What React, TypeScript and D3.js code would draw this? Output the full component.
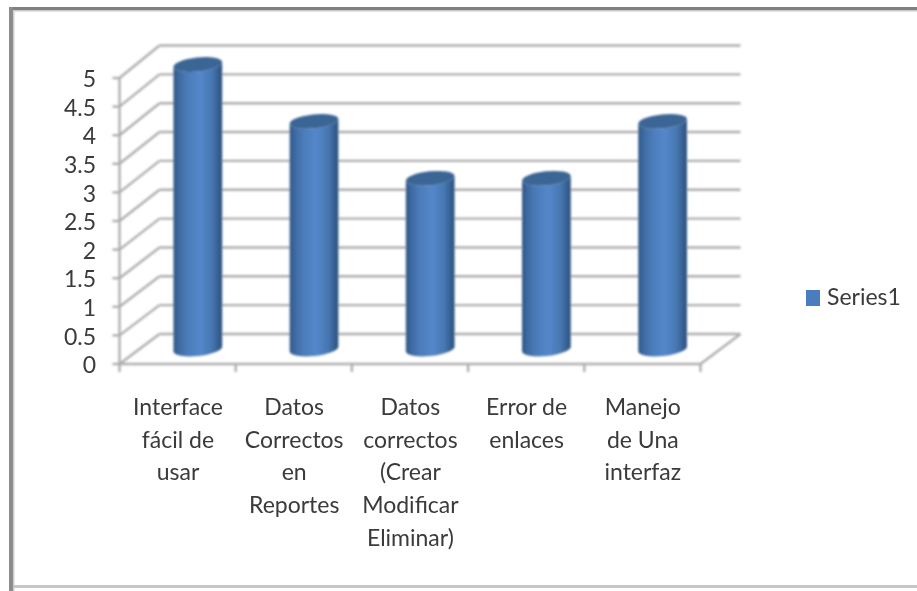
import React from "react";
import * as d3 from "d3";

const categories: string[][] = [
  ["Interface", "fácil de", "usar"],
  ["Datos", "Correctos", "en", "Reportes"],
  ["Datos", "correctos", "(Crear", "Modificar", "Eliminar)"],
  ["Error de", "enlaces"],
  ["Manejo", "de Una", "interfaz"],
];
const seriesValues = [5, 4, 3, 3, 4];
const seriesName = "Series1";
const yTicks = [0, 0.5, 1, 1.5, 2, 2.5, 3, 3.5, 4, 4.5, 5];

const W = 917;
const H = 591;
const font = "Lato, 'Open Sans', sans-serif";
const depthX = 40;

export default function App() {
  const x = d3.scaleLinear().domain([0, categories.length]).range([119.5, 700.5]);
  const y = d3.scaleLinear().domain([0, 5]).range([364, 78]);
  const yBack = d3.scaleLinear().domain([0, 5]).range([334, 45.5]);
  const barY = d3.scaleLinear().domain([0, 5]).range([349, 64.5]);
  const rx = 24.5;
  const ry = 7;
  const tilt = -6;
  const grid = "#aeaeae";
  const gw = 2.4;

  return (
    <div style={{ position: "absolute", left: 0, top: 0, width: W, height: H }}>
      <svg width={W} height={H} style={{ display: "block" }}>
        <defs>
          <linearGradient id="cyl" x1="0" x2="1" y1="0" y2="0">
            <stop offset="0" stopColor="#2f5685" />
            <stop offset="0.1" stopColor="#3d69a0" />
            <stop offset="0.3" stopColor="#4c7dbb" />
            <stop offset="0.55" stopColor="#5487ca" />
            <stop offset="0.78" stopColor="#4878b3" />
            <stop offset="0.93" stopColor="#345e90" />
            <stop offset="1" stopColor="#2a4e7a" />
          </linearGradient>
          <filter id="soft" x="-5%" y="-5%" width="110%" height="110%">
            <feGaussianBlur stdDeviation="0.8" />
          </filter>
          <filter id="softText" x="-5%" y="-5%" width="110%" height="110%">
            <feGaussianBlur stdDeviation="0.6" />
          </filter>
        </defs>
        <rect width={W} height={H} fill="#ffffff" />

        {/* outer picture frame */}
        <g>
          <rect x={9} y={7} width={W - 9} height={3} fill="#808080" />
          <rect x={13} y={10} width={W - 13} height={1.5} fill="#c8c8c8" />
          <rect x={9} y={7} width={4} height={H - 7} fill="#8c8c8c" />
          <rect x={13} y={10} width={1.5} height={H - 10} fill="#cfcfcf" />
          <rect x={13} y={585} width={W - 13} height={3} fill="#c6c6c6" />
        </g>

        <g filter="url(#soft)">
          {yTicks.map((t) => (
            <g key={t}>
              <line x1={x(0)} x2={x(0) + depthX} y1={y(t)} y2={yBack(t)} stroke={grid} strokeWidth={gw} />
              <line x1={x(0) + depthX} x2={x(5) + depthX} y1={yBack(t)} y2={yBack(t)} stroke={grid} strokeWidth={gw} />
              <line x1={x(0) - 7} x2={x(0)} y1={y(t)} y2={y(t)} stroke={grid} strokeWidth={gw} />
            </g>
          ))}
          <line x1={x(0)} x2={x(0)} y1={y(5)} y2={y(0)} stroke={grid} strokeWidth={gw} />
          <line x1={x(0)} x2={x(5)} y1={y(0)} y2={y(0)} stroke={grid} strokeWidth={gw} />
          <line x1={x(5)} x2={x(5) + depthX} y1={y(0)} y2={yBack(0)} stroke={grid} strokeWidth={gw} />
          {d3.range(categories.length + 1).map((i) => (
            <line key={i} x1={x(i)} x2={x(i)} y1={y(0)} y2={y(0) + 8} stroke={grid} strokeWidth={gw} />
          ))}

          {seriesValues.map((v, i) => {
            const cx = x(i) + 78.3;
            const top = barY(v);
            const bottom = barY(0);
            const dy = rx * Math.sin((tilt * Math.PI) / 180);
            const a = rx * Math.cos((tilt * Math.PI) / 180);
            const body = `M${cx - a},${top - dy} L${cx - a},${bottom - dy} A${rx},${ry} ${tilt} 0 0 ${cx + a},${bottom + dy} L${cx + a},${top + dy} A${rx},${ry} ${tilt} 0 1 ${cx - a},${top - dy} Z`;
            return (
              <g key={i}>
                <path d={body} fill="url(#cyl)" />
                <ellipse cx={cx} cy={top} rx={rx} ry={ry} transform={`rotate(${tilt} ${cx} ${top})`} fill="#3a6594" />
              </g>
            );
          })}
        </g>

        <g filter="url(#softText)" fontFamily={font} fill="#3a3a3a" fontSize={23}>
          {yTicks.map((t) => (
            <text key={t} x={96} y={y(t) + 1} dy="0.36em" textAnchor="end">
              {String(t)}
            </text>
          ))}
          {categories.map((lines, i) => (
            <text key={i} textAnchor="middle">
              {lines.map((l, j) => (
                <tspan key={j} x={x(i) + 58.5} y={415 + j * 32.7}>
                  {l}
                </tspan>
              ))}
            </text>
          ))}
          <rect x={806} y={290} width={14} height={16} fill="#4a7dbd" />
          <text x={827} y={305}>{seriesName}</text>
        </g>
      </svg>
    </div>
  );
}
